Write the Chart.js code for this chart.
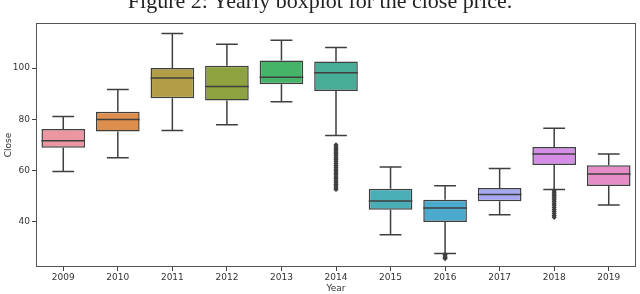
<!DOCTYPE html>
<html>
<head>
<meta charset="utf-8">
<script src="https://cdn.jsdelivr.net/npm/chart.js@4.4.1/dist/chart.umd.min.js"></script>
<style>
  html, body { margin: 0; padding: 0; background: #fff; }
  #wrap { position: relative; width: 640px; height: 294px; overflow: hidden; }
  #caption { position: absolute; left: 0; top: -12px; width: 640px; text-align: center;
             font-family: "Liberation Serif", "DejaVu Serif", serif; font-size: 22px; color: #222; }
  canvas { position: absolute; left: 0; top: 0; }
</style>
</head>
<body>
<div id="wrap">
  <canvas id="chart" width="640" height="294"></canvas>
  <div id="caption">Figure 2: Yearly boxplot for the close price.</div>
</div>
<script>
// box stats per year
const years       = ['2009', '2010', '2011', '2012', '2013', '2014', '2015', '2016', '2017', '2018', '2019'];
const whiskerLow  = [59.6, 65.0, 75.6, 77.9, 86.8, 73.7, 34.9, 27.6, 42.7, 52.6, 46.5];
const q1          = [68.9, 75.2, 88.2, 87.3, 93.7, 91.0, 44.7, 39.9, 48.0, 62.1, 53.9];
const median      = [71.6, 79.9, 96.1, 92.8, 96.4, 98.2, 48.1, 45.3, 50.6, 66.4, 58.6];
const q3          = [76.2, 82.9, 100.0, 100.9, 103.0, 102.6, 52.9, 48.6, 53.2, 69.2, 62.0];
const whiskerHigh = [81.1, 91.6, 113.5, 109.3, 110.9, 108.0, 61.4, 54.0, 60.8, 76.5, 66.4];

// outlier points (fliers)
const outlierYears  = ['2014', '2016', '2018'];
const outlierValues = [
  [70.0, 69.3, 68.6, 68.0, 67.2, 66.5, 65.8, 65.0, 64.3, 63.6, 62.8, 62.0, 61.3,
   60.5, 59.8, 59.0, 58.3, 57.5, 56.8, 56.0, 55.3, 54.6, 53.9, 53.2, 52.6],
  [27.2, 26.6, 26.0, 25.6],
  [52.1, 51.5, 50.8, 50.2, 49.5, 48.8, 48.0, 47.2, 46.5, 45.6, 44.8, 44.0, 43.2, 42.4, 41.7]
];

const yTicks = [40, 60, 80, 100];

const boxColors = ['#eb96a0', '#de8f4d', '#b29e46', '#8fa240', '#46b468', '#48ad96',
                   '#49aeb5', '#4baacd', '#a8a8f0', '#d68de8', '#e68dc7'];
const edgeColor = '#3f3f3f';

const outlierPoints = [];
outlierYears.forEach((yr, i) => {
  outlierValues[i].forEach(v => outlierPoints.push({ x: yr, y: v }));
});

// whiskers, caps, medians and the axes frame
const boxLines = {
  id: 'boxLines',
  afterDatasetsDraw(chart) {
    const ctx = chart.ctx;
    const ys = chart.scales.y;
    const bars = chart.getDatasetMeta(0).data;
    ctx.save();
    ctx.strokeStyle = edgeColor;
    ctx.lineWidth = 1.5;
    bars.forEach((bar, i) => {
      const x = bar.x;
      const half = bar.width / 2;
      const cap = bar.width / 4;
      const yLo = ys.getPixelForValue(whiskerLow[i]);
      const yHi = ys.getPixelForValue(whiskerHigh[i]);
      const yQ1 = ys.getPixelForValue(q1[i]);
      const yQ3 = ys.getPixelForValue(q3[i]);
      const yMed = ys.getPixelForValue(median[i]);
      ctx.beginPath();
      ctx.moveTo(x, yQ3); ctx.lineTo(x, yHi);
      ctx.moveTo(x, yQ1); ctx.lineTo(x, yLo);
      ctx.moveTo(x - cap, yHi); ctx.lineTo(x + cap, yHi);
      ctx.moveTo(x - cap, yLo); ctx.lineTo(x + cap, yLo);
      ctx.moveTo(x - half, yMed); ctx.lineTo(x + half, yMed);
      ctx.stroke();
    });
    const a = chart.chartArea;
    ctx.lineWidth = 1;
    ctx.strokeStyle = '#555';
    ctx.strokeRect(a.left + 0.5, a.top + 0.5, a.right - a.left - 1, a.bottom - a.top - 1);
    ctx.restore();
  }
};

new Chart(document.getElementById('chart'), {
  type: 'bar',
  data: {
    labels: years,
    datasets: [{
      data: years.map((_, i) => [q1[i], q3[i]]),
      backgroundColor: boxColors,
      borderColor: edgeColor,
      borderWidth: 1.5,
      borderSkipped: false,
      barPercentage: 0.8,
      categoryPercentage: 1.0,
      order: 2
    }, {
      type: 'scatter',
      data: outlierPoints,
      pointStyle: 'rectRot',
      pointRadius: 2.6,
      backgroundColor: edgeColor,
      borderColor: edgeColor,
      borderWidth: 0,
      order: 1
    }]
  },
  options: {
    responsive: false,
    animation: false,
    layout: { padding: { top: 23, right: 2, left: 0, bottom: 0 } },
    plugins: {
      legend: { display: false },
      tooltip: { enabled: false }
    },
    scales: {
      x: {
        type: 'category',
        offset: true,
        grid: { display: true, offset: false, drawOnChartArea: false, drawTicks: true, tickLength: 4, color: '#444' },
        border: { display: false },
        ticks: { color: '#333', font: { family: 'DejaVu Sans', size: 9 }, padding: 1, maxRotation: 0 },
        title: { display: true, text: 'Year', color: '#333', font: { family: 'DejaVu Sans', size: 9 }, padding: { top: 0, bottom: 0 } },
        afterFit(scale) { scale.height = 27; }
      },
      y: {
        min: 22.3,
        max: 117.6,
        grid: { display: true, drawOnChartArea: false, drawTicks: true, tickLength: 4, color: '#444' },
        border: { display: false },
        ticks: { color: '#333', font: { family: 'DejaVu Sans', size: 9 }, padding: 2 },
        afterBuildTicks(scale) { scale.ticks = yTicks.map(v => ({ value: v })); },
        title: { display: true, text: 'Close', color: '#333', font: { family: 'DejaVu Sans', size: 9 }, padding: { top: 3, bottom: 0 } },
        afterFit(scale) { scale.width = 36; }
      }
    }
  },
  plugins: [boxLines]
});
</script>
</body>
</html>
